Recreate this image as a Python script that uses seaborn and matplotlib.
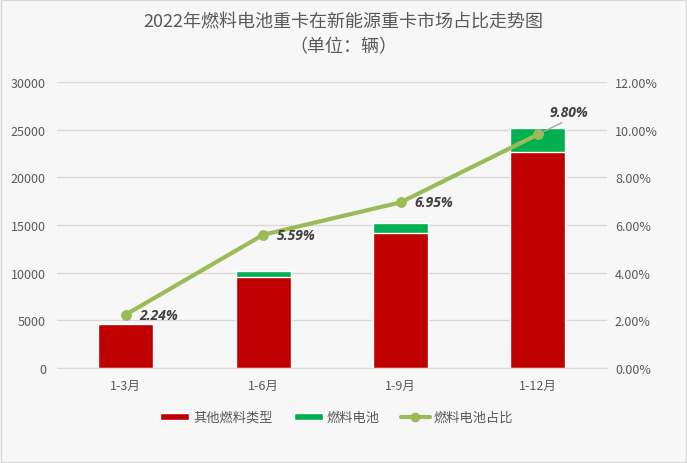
import matplotlib
matplotlib.use('Agg')
import matplotlib.pyplot as plt
import seaborn as sns
import pandas as pd
from matplotlib.patches import Patch, Rectangle
from matplotlib.lines import Line2D
from matplotlib.ticker import FuncFormatter

sns.set_style('white')
plt.rcParams['font.family'] = ['Noto Sans CJK SC', 'DejaVu Sans']

# 数据
periods = ['1-3月', '1-6月', '1-9月', '1-12月']
totals = [4720, 10150, 15250, 25150]
fuel_cell = [106, 567, 1060, 2465]
other = [t - f for t, f in zip(totals, fuel_cell)]
share = [2.24, 5.59, 6.95, 9.80]
share_labels = ['2.24%', '5.59%', '6.95%', '9.80%']

df = pd.DataFrame({'period': periods, 'total': totals, 'other': other, 'share': share})

red = '#C00000'
green = '#00B050'
olive = '#9BBB59'
txt = '#595959'

fig = plt.figure(figsize=(6.87, 4.64), dpi=100)
fig.patch.set_facecolor('#F7F7F7')
fig.patches.append(Rectangle((0.002, 0.002), 0.996, 0.996, transform=fig.transFigure,
                             fill=False, edgecolor='#D9D9D9', linewidth=1))
ax = fig.add_axes([0.083, 0.2047, 0.8, 0.6164])
ax.set_facecolor('#F7F7F7')

# 堆叠柱：先画总量(绿色)，再画其他燃料(红色)
sns.barplot(data=df, x='period', y='total', color=green, width=0.4, saturation=1, ax=ax)
sns.barplot(data=df, x='period', y='other', color=red, width=0.4, saturation=1, ax=ax)

ax.set_ylim(0, 30000)
ax.set_yticks(range(0, 30001, 5000))
ax.set_xlim(-0.5, 3.5)
ax.grid(axis='y', color='#D9D9D9', linewidth=1)
ax.set_axisbelow(True)
for s in ax.spines.values():
    s.set_visible(False)
ax.spines['bottom'].set_visible(True)
ax.spines['bottom'].set_color('#D9D9D9')
ax.set_xlabel('')
ax.set_ylabel('')
ax.tick_params(axis='both', length=0, labelsize=9, colors=txt, pad=8)

# 占比折线(右轴)
ax2 = ax.twinx()
sns.lineplot(x=list(range(len(periods))), y=share, ax=ax2, color=olive, linewidth=3,
             marker='o', markersize=7, markeredgecolor=olive)
ax2.set_ylim(0, 12)
ax2.set_yticks(range(0, 13, 2))
ax2.yaxis.set_major_formatter(FuncFormatter(lambda v, p: f'{v:.2f}%'))
for s in ax2.spines.values():
    s.set_visible(False)
ax2.tick_params(axis='y', length=0, labelsize=9, colors=txt, pad=6)

lab_font = dict(fontsize=10, fontweight='bold', style='italic', color='#404040',
                family=['Open Sans', 'Liberation Sans', 'DejaVu Sans'])
for i, (v, lab) in enumerate(zip(share, share_labels)):
    if i == 3:
        ax2.annotate(lab, xy=(i, v), xytext=(8, 13), textcoords='offset points',
                     arrowprops=dict(arrowstyle='-', color='#A6A6A6', lw=1,
                                     shrinkA=0, shrinkB=0, relpos=(0.5, 0)),
                     **lab_font)
    else:
        ax2.annotate(lab, xy=(i, v), xytext=(10, 0), textcoords='offset points',
                     va='center', **lab_font)

fig.text(0.5, 0.952, '2022年燃料电池重卡在新能源重卡市场占比走势图', ha='center', va='center',
         fontsize=13, fontweight='medium', color=txt)
fig.text(0.5, 0.898, '（单位：辆）', ha='center', va='center', fontsize=13,
         fontweight='medium', color=txt)

handles = [Patch(facecolor=red), Patch(facecolor=green),
           Line2D([0], [0], color=olive, linewidth=3, marker='o', markersize=6)]
fig.legend(handles, ['其他燃料类型', '燃料电池', '燃料电池占比'], loc='center',
           bbox_to_anchor=(0.49, 0.098), ncol=3, frameon=False, fontsize=9.5,
           labelcolor=txt, handlelength=2.2, handleheight=0.5, columnspacing=1.6,
           handletextpad=0.3)

fig.savefig('out.png', dpi=100, facecolor=fig.get_facecolor())
